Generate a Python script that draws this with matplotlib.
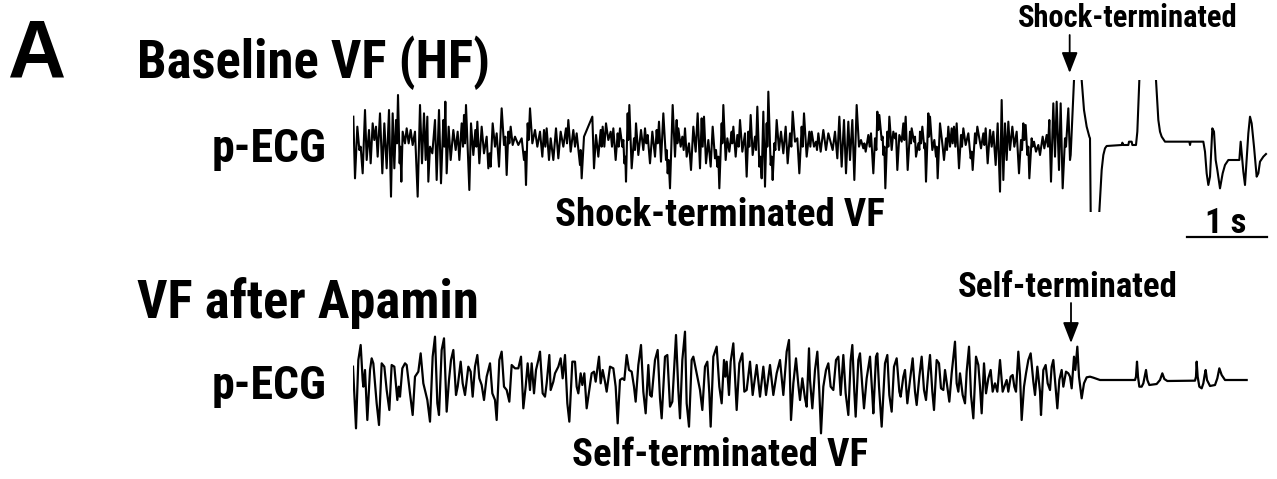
import matplotlib
matplotlib.use("Agg")
import matplotlib.pyplot as plt
from matplotlib import font_manager
from matplotlib.patches import FancyArrowPatch
from matplotlib.transforms import blended_transform_factory
import numpy as np

# ---------------- data (sample index at 240 Hz, amplitude in a.u.) ----------------
FS = 240.0

top_part1 = [(1, 85), (6, -100), (13, 55), (19, -15), (23, -5), (29, -85), (36, 105), (41, -45), (48, 45), (53, -55),
             (59, 65), (64, 15), (69, 55), (74, -35), (81, 95), (88, -85), (94, 65), (101, -70), (108, 105), (114, -155),
             (119, 95), (124, -70), (129, 75), (132, 5), (135, 150), (140, -55), (142, -5), (145, -110), (149, 40),
             (156, 5), (161, 50), (167, 5), (173, 45), (179, 0), (186, 40), (194, -155), (201, 120), (207, -55),
             (213, 95), (218, -45), (223, 85), (226, -110), (231, -5), (238, -25), (246, 75), (251, -105), (258, 105),
             (264, -115), (271, 75), (274, -5), (277, 130), (281, -85), (287, 55), (293, -45), (301, 45), (308, -15),
             (314, 40), (319, -45), (326, 65), (330, -5), (333, 90), (336, 5), (339, 120), (349, -135), (354, 65),
             (361, -30), (367, 45), (370, -5), (373, 70), (379, -55), (386, 55), (393, -25), (401, 25), (406, -70),
             (410, -25), (413, -65), (419, 65), (426, -5), (431, 35), (438, -65), (446, 110), (453, 0), (457, 25),
             (461, -90), (466, 40), (469, 5), (473, 55), (479, 0), (486, 25), (496, 0), (506, 20), (513, -45),
             (516, -20), (519, -120), (524, 65), (527, 15), (531, 110), (538, 5), (546, 45), (553, -5), (561, 40),
             (568, -35), (573, 45), (577, -5), (581, 50), (588, -45), (593, 20), (601, -45), (609, 50), (616, -40),
             (623, 40), (631, -5), (639, 50), (642, 5), (646, 75), (653, -20), (661, 45), (666, -5), (671, 35),
             (681, -60), (683, -15), (686, -100), (693, 25)]

top_part2 = [(718, 85), (723, -70), (729, 30), (736, -35), (743, 45), (746, -5), (749, 55), (754, -5), (759, 65),
             (766, 15), (773, 40), (777, -5), (781, 50), (788, -45), (794, 35), (797, -5), (801, 50), (808, -5),
             (811, 15), (814, -55), (817, -35), (819, -110), (824, 95), (826, 15), (829, 120), (836, -70), (843, 20),
             (846, -15), (849, 65), (856, -30), (864, 45), (871, -15), (876, 50), (880, 5), (884, 30), (891, -55),
             (898, 40), (906, -35), (911, 45), (914, 5), (918, 70), (924, -50), (931, 95), (939, -45), (941, -15),
             (944, -85), (947, -45), (951, -130), (959, 120), (966, -35), (971, 75), (973, 5), (976, 50), (983, -5),
             (988, 25), (992, -15), (996, 50), (1001, -35), (1008, 5), (1014, -75), (1021, 55), (1028, -20),
             (1034, 95), (1041, -70), (1046, 80), (1049, -5), (1053, 85), (1059, -55), (1066, 15), (1073, -65),
             (1079, 55), (1086, -40), (1089, -15), (1093, -65), (1096, -35), (1099, -130), (1106, 65), (1108, 5),
             (1111, 120), (1118, -45), (1123, 20), (1129, -20), (1136, 40), (1138, 5), (1141, 55), (1148, -35),
             (1153, 30), (1157, -5), (1161, 75), (1168, -20), (1176, 35), (1181, -95), (1186, 40), (1189, -5),
             (1193, 90), (1199, -30), (1206, 25), (1209, -15), (1213, 115), (1219, -65), (1222, -35), (1226, -100),
             (1231, 100), (1236, -125), (1241, 65), (1243, -5), (1246, 160), (1253, -60), (1256, -35), (1259, -105),
             (1264, 5), (1267, -15), (1271, 75), (1278, -15), (1284, 40), (1291, -25), (1298, 55), (1304, -55),
             (1311, 35), (1315, -5), (1319, 100), (1326, 10), (1333, 20), (1339, -85), (1346, 55), (1349, -5),
             (1353, 95), (1361, -35), (1369, 40), (1372, -5), (1376, 40), (1383, -5), (1389, 10), (1392, -15),
             (1396, 35), (1403, -20), (1411, 45), (1419, -15), (1426, 35)]

top_part3 = [(1439, -15), (1446, 40), (1453, -40), (1459, 85), (1466, -65), (1473, 75), (1479, -85), (1486, 70),
             (1491, -45), (1498, 75), (1504, -105), (1511, 120), (1518, -5), (1524, 15), (1531, -10), (1534, 5),
             (1538, -20), (1546, 30), (1550, -5), (1554, 35), (1561, -85), (1566, 20), (1570, -15), (1573, 100),
             (1576, 45), (1579, 90), (1586, 15), (1589, 25), (1591, -30), (1594, -5), (1597, -130), (1603, 40),
             (1606, -5), (1609, 85), (1616, -15), (1621, 40), (1626, 20), (1629, 35), (1633, -75), (1639, 30),
             (1646, 10), (1651, 65), (1654, 15), (1658, 85), (1664, -75), (1671, 40), (1674, 5), (1676, 50),
             (1683, 10), (1686, 25), (1689, -35), (1696, 5), (1699, -15), (1701, 40), (1704, 5), (1708, 55),
             (1714, -10), (1716, 5), (1719, -110), (1726, 95), (1728, 25), (1731, 85), (1738, -15), (1744, 15),
             (1749, -35), (1751, -5), (1754, -100), (1761, 65), (1769, -5), (1773, -45), (1779, 20), (1782, -15),
             (1786, 55), (1791, -5), (1796, 50), (1799, 5), (1803, 55), (1807, -5), (1811, 65), (1818, -70),
             (1824, 30), (1827, -5), (1831, 50), (1838, 0), (1846, 35), (1853, -40), (1856, -20), (1859, -75),
             (1866, 35), (1869, 5), (1873, 55), (1884, -10), (1891, 35), (1894, 0), (1898, 50), (1904, -55),
             (1911, 45), (1916, -5), (1921, 40), (1928, -60), (1934, 65), (1941, -140), (1946, 135), (1951, -105),
             (1956, 65), (1961, -45), (1966, 70), (1971, -15), (1978, 55), (1984, -5), (1991, 40), (1998, -85),
             (2004, 15), (2007, -15), (2011, 65), (2014, 15), (2018, 60), (2023, -30), (2026, -5), (2029, -100),
             (2036, 20), (2039, -5), (2043, 10), (2049, -20), (2056, 0), (2061, -30), (2069, 25), (2074, -10),
             (2081, 30), (2085, -5), (2089, 75), (2094, -110), (2101, 125), (2106, -35), (2111, 130), (2118, -75),
             (2123, 125), (2129, -130), (2136, 20), (2139, -5), (2146, 110), (2151, -45), (2153, -30)]

# after the shock: the signal saturates off-scale (+/-600)
top_post_shock = [(2163, 195), (2165, 600), (2184, 600), (2186, 195), (2193, 105), (2201, 55), (2209, 25),
                  (2211, 20), (2213, -200), (2215, -600), (2237, -600), (2239, -200), (2243, -125), (2246, -75),
                  (2251, -30), (2256, -10), (2261, -3), (2306, 0), (2308, 7), (2311, 0), (2326, 0), (2328, 10),
                  (2336, 10), (2338, 0), (2349, 0), (2353, 40), (2359, 195), (2361, 600), (2407, 600), (2409, 195),
                  (2416, 75), (2421, 40), (2426, 25), (2436, 10), (2509, 10), (2511, 0), (2513, 10), (2551, 10),
                  (2556, -20), (2561, -85), (2566, -120), (2571, -95), (2578, 50), (2583, 40), (2588, -45),
                  (2593, -75), (2601, -130), (2609, -85), (2616, -60), (2626, -45), (2659, -45), (2663, 10),
                  (2667, -35), (2671, -80), (2676, -120), (2681, -45), (2686, 35), (2691, 85), (2696, 65),
                  (2703, -5), (2711, -95), (2716, -85), (2721, -50), (2731, -35), (2739, -27)]

bot_part1 = [(0, 40), (9, -145), (16, 60), (23, 105), (29, 0), (31, -20), (36, 30), (43, -120), (51, 30), (56, 65),
             (61, 50), (71, -70), (78, -135), (86, 50), (94, 40), (101, -30), (109, -90), (116, 45), (124, 40),
             (133, -60), (137, -20), (141, -50), (148, 35), (156, 50), (161, 45), (171, -40), (179, -105), (186, 10),
             (196, 25), (203, 80), (211, -10), (223, -60), (231, -125), (239, 70), (246, 130), (253, -70),
             (258, -105), (266, 90), (273, 125), (281, -95), (288, 0), (294, 60), (301, 90), (309, -45), (314, -20),
             (323, 55), (329, -10), (336, -45), (346, 40), (353, 25), (359, -50), (366, 40), (373, 75), (379, 5),
             (386, -15), (393, -60), (401, 10), (411, 50), (418, -40), (426, -60), (431, -120), (439, 60), (446, 85),
             (453, -20), (461, -30), (469, -65), (476, 45), (486, 35), (496, 35), (504, 70), (511, -85), (518, -20),
             (524, 50), (531, -30), (536, 50), (543, -40), (549, 30), (556, 60), (561, 85), (569, -40), (576, -50),
             (581, -10), (589, 75), (593, -30), (601, -5), (606, 20), (616, 40), (623, 65), (629, 5), (636, 75),
             (643, -70), (649, -125), (658, 55), (666, 55), (671, -20), (676, -40), (683, 20), (688, -15),
             (694, 20), (701, -85)]

bot_part2 = [(716, 20), (723, 25), (728, -5), (738, 70), (743, -10), (749, 30), (756, -5), (761, -35), (771, 40),
             (781, 35), (788, -20), (794, -130), (801, 0), (808, 5), (814, 0), (821, 75), (828, 30), (836, 25),
             (843, -20), (848, -65), (856, 45), (864, 105), (871, -35), (878, -100), (886, 45), (891, -45),
             (896, -50), (906, 60), (914, 90), (921, -55), (926, -115), (936, 70), (943, 75), (951, -80), (958, -65),
             (969, 135), (976, -30), (981, -115), (988, 60), (996, 145), (1001, -70), (1008, -140), (1016, 60),
             (1021, 70), (1031, 20), (1041, -30), (1048, -90), (1056, 40), (1063, 55), (1069, -40), (1073, -140),
             (1081, 70), (1091, 100), (1099, -20), (1106, -70), (1113, 60), (1117, 10), (1121, 55), (1128, -45),
             (1133, 55), (1141, 110), (1146, 10), (1151, -90), (1159, 50), (1168, 80), (1174, -35), (1181, -30),
             (1191, 55), (1199, -45), (1211, 45), (1221, -50), (1231, 40), (1239, -45), (1251, 45), (1261, -45),
             (1271, 20), (1281, 60), (1291, -45), (1301, 85), (1308, 120), (1314, -120), (1321, -10), (1329, 65),
             (1336, -15), (1341, -60), (1348, 5), (1356, -55), (1361, -80), (1368, 95), (1371, 0), (1378, -85),
             (1386, 30), (1393, 85), (1399, -35), (1404, -160), (1411, -20), (1419, 30), (1426, 50)]

bot_part3 = [(1433, -20), (1441, -30), (1449, 60), (1456, 70), (1463, -45), (1471, 75), (1478, -40), (1486, -105),
             (1493, 60), (1498, 105), (1504, -35), (1508, -110), (1516, 60), (1521, 80), (1528, -20), (1533, -85),
             (1541, 5), (1548, 50), (1551, 70), (1558, -45), (1561, -100), (1569, 70), (1573, 80), (1578, -20),
             (1586, -140), (1596, 50), (1603, 75), (1609, -45), (1616, -95), (1623, 40), (1631, 65), (1639, -35),
             (1643, -50), (1651, 10), (1656, 30), (1663, -70), (1671, 0), (1679, 65), (1686, -35), (1691, -75),
             (1699, 10), (1706, 70), (1713, -30), (1719, -60), (1726, 25), (1731, 75), (1738, -35), (1743, -90),
             (1751, 60), (1758, 50), (1764, -25), (1771, -30), (1776, 30), (1783, -20), (1789, -65), (1796, 20),
             (1806, 115), (1811, -10), (1816, -35), (1821, 20), (1829, -45), (1836, -70), (1841, 25), (1848, 100),
             (1854, -45), (1861, -115), (1869, 70), (1876, 45), (1881, -20), (1886, -100), (1893, 50), (1899, -40),
             (1906, 5), (1913, 30), (1919, -35), (1926, -10), (1933, -35), (1941, 60), (1949, -35), (1961, 0),
             (1966, -35), (1973, 10), (1979, 15), (1984, -20), (1989, -35), (1996, 85), (2001, 15), (2006, -120),
             (2013, -20), (2019, 20), (2026, 60), (2033, 80), (2041, -5), (2046, -45), (2053, 40), (2061, -35),
             (2064, -105), (2071, 30), (2078, 45), (2084, -10), (2091, -30), (2096, 40), (2101, 60), (2109, -35),
             (2113, -85), (2119, 0), (2126, 30), (2131, -20), (2139, 25), (2146, 20)]

bot_post = [(2151, 10), (2156, -25), (2163, 70), (2167, 30), (2173, 100), (2178, 10), (2186, -55), (2193, -10),
            (2201, 8), (2211, 10), (2221, 7), (2241, 0), (2346, 0), (2349, 10), (2352, 55), (2355, 10), (2359, -20),
            (2366, -20), (2371, -10), (2376, 15), (2379, 30), (2383, 0), (2389, -15), (2411, -12), (2421, 0),
            (2428, 20), (2434, 3), (2443, -3), (2526, -2), (2529, 10), (2531, 55), (2534, 10), (2539, -20),
            (2546, -25), (2551, -10), (2555, 15), (2558, 30), (2562, 0), (2571, -18), (2586, -15), (2593, 5),
            (2599, 35), (2606, 15), (2616, 0), (2681, 0)]

shock_sample = 2150
self_term_sample = 2154
scale_bar_seconds = 1.0

titles = ["Baseline VF (HF)", "VF after Apamin"]
trace_label = "p-ECG"
sub_labels = ["Shock-terminated VF", "Self-terminated VF"]
event_labels = ["Shock-terminated", "Self-terminated"]
panel_label = "A"

# ---------------- figure ----------------
W, H = 1277, 479
fig = plt.figure(figsize=(W / 100, H / 100), dpi=100)
fig.patch.set_facecolor("white")


def pick_font():
    for name in ["Roboto Condensed", "PT Sans Narrow", "Archivo Narrow", "Liberation Sans"]:
        try:
            font_manager.findfont(font_manager.FontProperties(family=name, weight="bold"),
                                  fallback_to_default=False)
            return name
        except Exception:
            continue
    return "DejaVu Sans"


FONT = pick_font()


def fx(px):
    return px / W


def fy(py):
    return 1 - py / H


def txt(px, py, s, size, ha="left", family=None):
    fig.text(fx(px), fy(py), s, fontsize=size, fontweight="bold", family=family or FONT,
             ha=ha, va="baseline", color="black")


def unpack(*parts):
    pts = [p for part in parts for p in part]
    s = np.array([p[0] for p in pts], dtype=float)
    a = np.array([p[1] for p in pts], dtype=float)
    return s / FS, a


x0, x1 = 353, 1277
tmax = (x1 - x0) * 3 / FS

ax1 = fig.add_axes([fx(x0), fy(212), fx(x1) - fx(x0), 132 / H])
t, a = unpack(top_part1, top_part2, top_part3, top_post_shock)
ax1.plot(t, a, color="black", lw=1.5, solid_joinstyle="round")
ax1.set_xlim(0, tmax)
ax1.set_ylim(-201, 195)
ax1.axis("off")

ax2 = fig.add_axes([fx(x0), fy(445), fx(x1) - fx(x0), 130 / H])
t2, a2 = unpack(bot_part1, bot_part2, bot_part3, bot_post)
ax2.plot(t2, a2, color="black", lw=1.6, solid_joinstyle="round")
ax2.set_xlim(0, tmax)
ax2.set_ylim(-195, 195)
ax2.axis("off")

# texts
txt(8, 76, panel_label, 58, family="Liberation Sans")
txt(137, 78, titles[0], 38)
txt(212, 162, trace_label, 33)
txt(555, 226, sub_labels[0], 28)
txt(137, 318, titles[1], 38)
txt(212, 399, trace_label, 33)
txt(572, 466, sub_labels[1], 28)
txt(1128, 27, event_labels[0], 22, ha="center")
txt(1068, 297, event_labels[1], 25, ha="center")

# arrows (x placed at event time)
for ax, samp, ytop, ytip in [(ax1, shock_sample, 35, 73), (ax2, self_term_sample, 303, 343)]:
    tr = blended_transform_factory(ax.transData, fig.transFigure)
    arr = FancyArrowPatch((samp / FS, fy(ytop)), (samp / FS, fy(ytip)), transform=tr,
                          arrowstyle="-|>,head_length=0.9,head_width=0.35", mutation_scale=14,
                          color="black", lw=1.3, shrinkA=0, shrinkB=0)
    fig.add_artist(arr)

# scale bar: 1 s
sb_start = (1187 - x0) / 80.0
tr = blended_transform_factory(ax1.transData, fig.transFigure)
ax1.plot([sb_start, sb_start + scale_bar_seconds], [fy(237), fy(237)], transform=tr,
         color="black", lw=1.6, clip_on=False)
txt(1226, 233, "1 s", 25, ha="center")

fig.savefig("out.png", dpi=100, facecolor="white")
